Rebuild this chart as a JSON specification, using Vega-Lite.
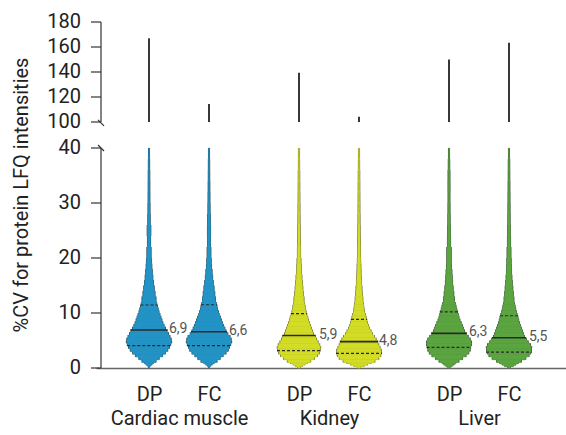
{
  "$schema": "https://vega.github.io/schema/vega-lite/v6.json",
  "width": 478,
  "height": 346,
  "autosize": {"type": "none"},
  "padding": {"left": 96, "top": 22, "right": 0, "bottom": 67},
  "background": "white",
  "title": {
    "text": "%CV for protein LFQ intensities",
    "orient": "left", "anchor": "middle", "frame": "group", "offset": -5, "baseline": "bottom",
    "fontSize": 20, "fontWeight": "normal", "font": "Roboto", "color": "#222222"
  },
  "config": {
    "view": {"stroke": null},
    "font": "Roboto",
    "locale": {"number": {"decimal": ",", "thousands": ".", "grouping": [3], "currency": ["", " €"]}}
  },
  "datasets": {
    "violins": [
      {"violin": "CD", "tissue": "Cardiac muscle", "method": "DP", "pos": 1, "max": 167},
      {"violin": "CF", "tissue": "Cardiac muscle", "method": "FC", "pos": 2, "max": 114.5},
      {"violin": "KD", "tissue": "Kidney", "method": "DP", "pos": 3.5, "max": 139.5},
      {"violin": "KF", "tissue": "Kidney", "method": "FC", "pos": 4.5, "max": 104.3},
      {"violin": "LD", "tissue": "Liver", "method": "DP", "pos": 6, "max": 150},
      {"violin": "LF", "tissue": "Liver", "method": "FC", "pos": 7, "max": 163.5}
    ],
    "stats": [
      {"violin": "CD", "stat": "q1", "cv": 4.06, "density": 43.5},
      {"violin": "CD", "stat": "median", "cv": 6.9, "density": 37},
      {"violin": "CD", "stat": "q3", "cv": 11.45, "density": 17},
      {"violin": "CF", "stat": "q1", "cv": 4.06, "density": 44},
      {"violin": "CF", "stat": "median", "cv": 6.6, "density": 36},
      {"violin": "CF", "stat": "q3", "cv": 11.5, "density": 16},
      {"violin": "KD", "stat": "q1", "cv": 3.15, "density": 44},
      {"violin": "KD", "stat": "median", "cv": 5.9, "density": 33},
      {"violin": "KD", "stat": "q3", "cv": 9.9, "density": 16},
      {"violin": "KF", "stat": "q1", "cv": 2.67, "density": 46},
      {"violin": "KF", "stat": "median", "cv": 4.8, "density": 38},
      {"violin": "KF", "stat": "q3", "cv": 8.85, "density": 16},
      {"violin": "LD", "stat": "q1", "cv": 3.76, "density": 45},
      {"violin": "LD", "stat": "median", "cv": 6.3, "density": 35},
      {"violin": "LD", "stat": "q3", "cv": 10.2, "density": 18.5},
      {"violin": "LF", "stat": "q1", "cv": 2.9, "density": 46},
      {"violin": "LF", "stat": "median", "cv": 5.5, "density": 34},
      {"violin": "LF", "stat": "q3", "cv": 9.5, "density": 18}
    ],
    "yticks": [
      {"v": 0}, {"v": 10}, {"v": 20}, {"v": 30}, {"v": 40},
      {"v": 100}, {"v": 120}, {"v": 140}, {"v": 160}, {"v": 180}
    ],
    "axisParts": [
      {"from": 0, "to": 40},
      {"from": 100, "to": 180}
    ],
    "breaks": [
      {"at": 98},
      {"at": 40}
    ],
    "slabs": [
      {"cv": 0, "cv2": 0.25, "CD": 0.5, "CF": 0.5, "KD": 2, "KF": 3, "LD": 2, "LF": 2.5},
      {"cv": 0.25, "cv2": 0.5, "CD": 2, "CF": 2.5, "KD": 6.5, "KF": 10, "LD": 6, "LF": 8.5},
      {"cv": 0.5, "cv2": 0.75, "CD": 5.5, "CF": 6, "KD": 11.5, "KF": 17, "LD": 10, "LF": 13.5},
      {"cv": 0.75, "cv2": 1, "CD": 9, "CF": 10, "KD": 16.5, "KF": 24, "LD": 13.5, "LF": 18.5},
      {"cv": 1, "cv2": 1.5, "CD": 14, "CF": 16, "KD": 23.5, "KF": 32, "LD": 20, "LF": 25},
      {"cv": 1.5, "cv2": 2, "CD": 20.5, "CF": 22.5, "KD": 31.5, "KF": 40, "LD": 27.5, "LF": 34},
      {"cv": 2, "cv2": 2.5, "CD": 27.5, "CF": 28.5, "KD": 37.5, "KF": 44, "LD": 34.5, "LF": 40.5},
      {"cv": 2.5, "cv2": 3, "CD": 33, "CF": 34.5, "KD": 41, "KF": 45.5, "LD": 40, "LF": 44},
      {"cv": 3, "cv2": 3.5, "CD": 38, "CF": 39, "KD": 43, "KF": 45, "LD": 43, "LF": 45.5},
      {"cv": 3.5, "cv2": 4, "CD": 41.5, "CF": 41.5, "KD": 44, "KF": 42.5, "LD": 44, "LF": 46},
      {"cv": 4, "cv2": 4.5, "CD": 44, "CF": 44, "KD": 42, "KF": 40, "LD": 45.5, "LF": 43.5},
      {"cv": 4.5, "cv2": 5, "CD": 46, "CF": 46, "KD": 38.5, "KF": 38, "LD": 45.5, "LF": 39},
      {"cv": 5, "cv2": 5.5, "CD": 45, "CF": 45, "KD": 35.5, "KF": 34.5, "LD": 43, "LF": 35},
      {"cv": 5.5, "cv2": 6, "CD": 42.5, "CF": 42.5, "KD": 33, "KF": 31, "LD": 39, "LF": 31.5},
      {"cv": 6, "cv2": 6.5, "CD": 39.5, "CF": 38, "KD": 29, "KF": 27, "LD": 35, "LF": 29},
      {"cv": 6.5, "cv2": 7, "CD": 36.5, "CF": 34.5, "KD": 27, "KF": 24, "LD": 31.5, "LF": 27},
      {"cv": 7, "cv2": 7.5, "CD": 33.5, "CF": 32, "KD": 25, "KF": 21, "LD": 29, "LF": 25},
      {"cv": 7.5, "cv2": 8, "CD": 30.5, "CF": 29.5, "KD": 23, "KF": 19, "LD": 27, "LF": 23},
      {"cv": 8, "cv2": 8.5, "CD": 28, "CF": 27, "KD": 21, "KF": 17, "LD": 24.5, "LF": 21},
      {"cv": 8.5, "cv2": 9, "CD": 26, "CF": 25, "KD": 19, "KF": 15.5, "LD": 22, "LF": 19.5},
      {"cv": 9, "cv2": 9.5, "CD": 24, "CF": 23, "KD": 17.5, "KF": 14, "LD": 20, "LF": 18},
      {"cv": 9.5, "cv2": 10, "CD": 22, "CF": 20.5, "KD": 15.5, "KF": 12.5, "LD": 18.5, "LF": 16.3},
      {"cv": 10, "cv2": 10.5, "CD": 20, "CF": 19, "KD": 14, "KF": 11, "LD": 17.3, "LF": 14.7},
      {"cv": 10.5, "cv2": 11, "CD": 18.5, "CF": 17, "KD": 13, "KF": 10, "LD": 15.5, "LF": 13.4},
      {"cv": 11, "cv2": 11.5, "CD": 17, "CF": 16, "KD": 12, "KF": 9.3, "LD": 14, "LF": 12.2},
      {"cv": 11.5, "cv2": 12, "CD": 15.5, "CF": 14.5, "KD": 11, "KF": 8.5, "LD": 12.5, "LF": 11},
      {"cv": 12, "cv2": 13, "CD": 14, "CF": 13, "KD": 9.8, "KF": 7.5, "LD": 11, "LF": 9.7},
      {"cv": 13, "cv2": 14, "CD": 12, "CF": 11.5, "KD": 8.5, "KF": 6.5, "LD": 9.5, "LF": 8.5},
      {"cv": 14, "cv2": 15, "CD": 10.5, "CF": 10, "KD": 7.5, "KF": 5.7, "LD": 8.2, "LF": 7.5},
      {"cv": 15, "cv2": 16, "CD": 9, "CF": 8.5, "KD": 6.5, "KF": 5, "LD": 7.1, "LF": 6.5},
      {"cv": 16, "cv2": 17, "CD": 7.5, "CF": 7.2, "KD": 5.6, "KF": 4.3, "LD": 6.3, "LF": 5.6},
      {"cv": 17, "cv2": 18, "CD": 6.5, "CF": 6, "KD": 4.8, "KF": 3.8, "LD": 5.6, "LF": 5},
      {"cv": 18, "cv2": 19, "CD": 5.5, "CF": 5, "KD": 4.1, "KF": 3.5, "LD": 4.8, "LF": 4.5},
      {"cv": 19, "cv2": 20, "CD": 5, "CF": 4.3, "KD": 3.6, "KF": 3.1, "LD": 4.3, "LF": 4.2},
      {"cv": 20, "cv2": 22, "CD": 4, "CF": 3.5, "KD": 3, "KF": 2.8, "LD": 4.3, "LF": 3.6},
      {"cv": 22, "cv2": 24, "CD": 3, "CF": 2.8, "KD": 2.5, "KF": 2.3, "LD": 3, "LF": 3},
      {"cv": 24, "cv2": 26, "CD": 3.4, "CF": 3, "KD": 2.1, "KF": 2, "LD": 2.5, "LF": 2.5},
      {"cv": 26, "cv2": 28, "CD": 2.2, "CF": 2.6, "KD": 1.8, "KF": 1.7, "LD": 2.1, "LF": 2.1},
      {"cv": 28, "cv2": 30, "CD": 1.8, "CF": 1.9, "KD": 1.6, "KF": 1.5, "LD": 1.8, "LF": 1.9},
      {"cv": 30, "cv2": 32, "CD": 1.5, "CF": 1.6, "KD": 1.4, "KF": 1.4, "LD": 1.6, "LF": 1.7},
      {"cv": 32, "cv2": 34, "CD": 1.4, "CF": 1.4, "KD": 1.3, "KF": 1.3, "LD": 1.7, "LF": 1.5},
      {"cv": 34, "cv2": 36, "CD": 1.3, "CF": 1.2, "KD": 1.2, "KF": 1.2, "LD": 1.6, "LF": 1.3},
      {"cv": 36, "cv2": 38, "CD": 1.1, "CF": 1.1, "KD": 1, "KF": 1, "LD": 1.2, "LF": 1.2},
      {"cv": 38, "cv2": 40, "CD": 0.9, "CF": 0.9, "KD": 0.9, "KF": 0.9, "LD": 0.9, "LF": 0.9}
    ]
  },
  "layer": [
    {
      "data": {"name": "axisParts"},
      "mark": {"type": "rule", "color": "#333333", "strokeWidth": 1.2},
      "encoding": {
        "x": {
          "datum": 0.2, "type": "quantitative",
          "scale": {"domain": [0.2, 8], "nice": false, "zero": false},
          "axis": null
        },
        "y": {
          "field": "from", "type": "quantitative",
          "scale": {"domain": [0, 40, 100, 180], "range": [346, 126, 100, 0], "nice": false, "zero": false},
          "axis": null
        },
        "y2": {"field": "to"}
      }
    },
    {
      "data": {"name": "yticks"},
      "mark": {"type": "rule", "color": "#333333", "strokeWidth": 1.2, "x2Offset": -10},
      "encoding": {
        "x": {"datum": 0.2, "type": "quantitative", "axis": null},
        "x2": {"datum": 0.2},
        "y": {"field": "v", "type": "quantitative", "axis": null}
      }
    },
    {
      "data": {"name": "yticks"},
      "mark": {"type": "text", "align": "right", "baseline": "middle", "dx": -20, "fontSize": 20, "font": "Roboto", "color": "#222222"},
      "encoding": {
        "x": {"datum": 0.2, "type": "quantitative", "axis": null},
        "y": {"field": "v", "type": "quantitative", "axis": null},
        "text": {"field": "v", "type": "quantitative", "format": "d"}
      }
    },
    {
      "data": {"name": "slabs"},
      "transform": [
        {"fold": ["CD", "CF", "KD", "KF", "LD", "LF"], "as": ["violin", "density"]},
        {"lookup": "violin", "from": {"data": {"name": "violins"}, "key": "violin", "fields": ["pos", "tissue"]}}
      ],
      "mark": {"type": "bar", "color": "#333333", "orient": "vertical"},
      "encoding": {
        "x": {
          "field": "pos", "type": "quantitative",
          "axis": {
            "orient": "bottom", "values": [1, 2, 3.5, 4.5, 6, 7],
            "labelExpr": "datum.value == 1 || datum.value == 3.5 || datum.value == 6 ? 'DP' : 'FC'",
            "title": null, "grid": false, "ticks": false, "tickSize": 0,
            "domain": true, "domainColor": "#666666", "domainWidth": 1.5,
            "labelPadding": 16, "labelFontSize": 20, "labelFont": "Roboto", "labelColor": "#222222",
            "labelFlush": false, "labelOverlap": false, "labelBound": false
          }
        },
        "y": {"field": "cv", "type": "quantitative", "axis": null},
        "y2": {"field": "cv2"},
        "size": {"field": "density", "type": "quantitative", "scale": {"domain": [0, 50], "range": [1.2, 50.2]}, "legend": null}
      }
    },
    {
      "data": {"name": "slabs"},
      "transform": [
        {"fold": ["CD", "CF", "KD", "KF", "LD", "LF"], "as": ["violin", "density"]},
        {"lookup": "violin", "from": {"data": {"name": "violins"}, "key": "violin", "fields": ["pos", "tissue"]}}
      ],
      "mark": {"type": "bar", "orient": "vertical", "strokeWidth": 0.6},
      "encoding": {
        "x": {"field": "pos", "type": "quantitative", "axis": null},
        "y": {"field": "cv", "type": "quantitative", "axis": null},
        "y2": {"field": "cv2"},
        "size": {"field": "density", "type": "quantitative", "scale": {"domain": [0, 50], "range": [0, 48.4]}, "legend": null},
        "color": {"field": "tissue", "type": "nominal", "scale": {"domain": ["Cardiac muscle", "Kidney", "Liver"], "range": ["#2193c6", "#d3dd25", "#5aa53f"]}, "legend": null},
        "stroke": {"field": "tissue", "type": "nominal", "scale": {"domain": ["Cardiac muscle", "Kidney", "Liver"], "range": ["#2193c6", "#d3dd25", "#5aa53f"]}, "legend": null}
      }
    },
    {
      "data": {"name": "stats"},
      "transform": [
        {"filter": "datum.stat != 'median'"},
        {"lookup": "violin", "from": {"data": {"name": "violins"}, "key": "violin", "fields": ["pos"]}}
      ],
      "mark": {"type": "point", "shape": "M-1,0H1", "filled": false, "stroke": "#2a2a2a", "strokeWidth": 1.2, "strokeDash": [3, 2], "opacity": 1},
      "encoding": {
        "x": {"field": "pos", "type": "quantitative", "axis": null},
        "y": {"field": "cv", "type": "quantitative", "axis": null},
        "size": {"field": "density", "type": "quantitative", "scale": {"type": "pow", "exponent": 2, "domain": [0, 50], "range": [0, 2500]}, "legend": null}
      }
    },
    {
      "data": {"name": "stats"},
      "transform": [
        {"filter": "datum.stat == 'median'"},
        {"lookup": "violin", "from": {"data": {"name": "violins"}, "key": "violin", "fields": ["pos"]}}
      ],
      "mark": {"type": "point", "shape": "M-1,0H1", "filled": false, "stroke": "#2a2a2a", "strokeWidth": 1.6, "opacity": 1},
      "encoding": {
        "x": {"field": "pos", "type": "quantitative", "axis": null},
        "y": {"field": "cv", "type": "quantitative", "axis": null},
        "size": {"field": "density", "type": "quantitative", "scale": {"type": "pow", "exponent": 2, "domain": [0, 50], "range": [0, 2500]}, "legend": null}
      }
    },
    {
      "data": {"name": "stats"},
      "transform": [
        {"filter": "datum.stat == 'median'"},
        {"lookup": "violin", "from": {"data": {"name": "violins"}, "key": "violin", "fields": ["pos"]}}
      ],
      "mark": {"type": "text", "align": "left", "baseline": "middle", "dx": 20, "dy": -1, "fontSize": 14, "font": "Roboto", "color": "#555555"},
      "encoding": {
        "x": {"field": "pos", "type": "quantitative", "axis": null},
        "y": {"field": "cv", "type": "quantitative", "axis": null},
        "text": {"field": "cv", "type": "quantitative", "format": ".1f"}
      }
    },
    {
      "data": {"name": "violins"},
      "mark": {"type": "rule", "color": "#222222", "strokeWidth": 1.8},
      "encoding": {
        "x": {
          "field": "pos", "type": "quantitative",
          "axis": {
            "orient": "bottom", "values": [1.5, 4, 6.5],
            "labelExpr": "datum.value < 3 ? 'Cardiac muscle' : datum.value < 5 ? 'Kidney' : 'Liver'",
            "title": null, "grid": false, "ticks": false, "tickSize": 0, "domain": false,
            "labelPadding": 40, "labelFontSize": 20, "labelFont": "Roboto", "labelColor": "#222222",
            "labelFlush": false, "labelOverlap": false, "labelBound": false
          }
        },
        "y": {"field": "max", "type": "quantitative", "axis": null},
        "y2": {"datum": 100}
      }
    },
    {
      "data": {"name": "breaks"},
      "mark": {"type": "point", "shape": "M-1,-1L1,1", "size": 36, "filled": false, "stroke": "#333333", "strokeWidth": 1.2, "opacity": 1},
      "encoding": {
        "x": {"datum": 0.2, "type": "quantitative", "axis": null},
        "y": {"field": "at", "type": "quantitative", "axis": null}
      }
    }
  ],
  "resolve": {"scale": {"size": "independent"}, "axis": {"x": "independent"}}
}
